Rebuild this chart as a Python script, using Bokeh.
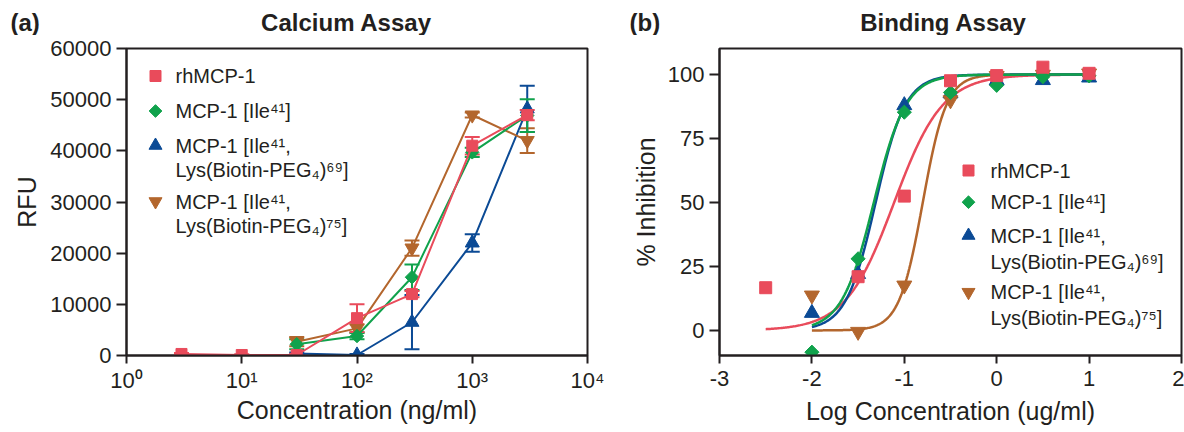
import numpy as np
from bokeh.plotting import figure
from bokeh.models import Label, Whisker, ColumnDataSource, FixedTicker, TeeHead, Range1d
from bokeh.layouts import row, column
from bokeh.embed import file_html
from bokeh.resources import INLINE

FONT = "Liberation Sans"
INK = "#231F20"
RED = "#E94B5B"
GREEN = "#10A24C"
BLUE = "#0B4A95"
BROWN = "#B3662D"

# ---------------- Panel (a): Calcium assay ----------------
a_conc_red = [3, 10, 30, 100, 300, 1000, 3000]
a_rfu_red = [300, 100, 100, 7300, 12000, 41000, 47000]
a_err_red = [200, 150, 200, 2700, 600, 1700, 1000]

a_conc = [30, 100, 300, 1000, 3000]
a_rfu_green = [2200, 3800, 15300, 39700, 46900]
a_err_green = [1000, 600, 2500, 900, 3200]
a_rfu_blue = [400, 100, 6500, 22000, 48200]
a_err_blue = [200, 200, 5300, 1700, 4500]
a_rfu_brown = [2700, 5300, 21000, 47000, 42000]
a_err_brown = [900, 800, 1500, 500, 2400]

a_yticks = [0, 10000, 20000, 30000, 40000, 50000, 60000]
a_xticks = [1, 10, 100, 1000, 10000]
a_xtick_labels = ["10\u2070", "10\u00b9", "10\u00b2", "10\u00b3", "10\u2074"]

# ---------------- Panel (b): Binding assay ----------------
b_logc_red = [-2.5, -1.5, -1.0, -0.5, 0.0, 0.5, 1.0]
b_inh_red = [16.7, 21.0, 52.5, 97.6, 99.6, 102.9, 100.5]
b_logc = [-2.0, -1.5, -1.0, -0.5, 0.0, 0.5, 1.0]
b_inh_green = [-8.5, 28.0, 85.3, 93.0, 95.8, 99.2, 99.5]
b_inh_blue = [6.8, 22.0, 88.0, 92.6, 97.7, 97.8, 98.8]
b_inh_brown = [13.7, -0.5, 17.6, 90.0, 99.5, 100.0, 100.5]

# fitted 4-parameter logistic curves: bottom, top, logEC50, hill, x-start, x-end
fit_red = [0.0, 100.0, -1.11, 1.65, -2.5, 1.0]
fit_green = [0.0, 100.0, -1.33, 2.5, -2.0, 1.0]
fit_blue = [0.0, 100.0, -1.31, 2.7, -2.0, 1.0]
fit_brown = [0.0, 100.0, -0.80, 3.4, -2.0, 1.0]

b_yticks = [0, 25, 50, 75, 100]
b_xticks = [-3, -2, -1, 0, 1, 2]
b_xtick_labels = ["-3", "-2", "-1", "0", "1", "2"]

legend_lines = [
    ["rhMCP-1"],
    ["MCP-1 [Ile\u2074\u00b9]"],
    ["MCP-1 [Ile\u2074\u00b9,", "Lys(Biotin-PEG\u2084)\u2076\u2079]"],
    ["MCP-1 [Ile\u2074\u00b9,", "Lys(Biotin-PEG\u2084)\u2077\u2075]"],
]
panel_titles = ["Calcium Assay", "Binding Assay"]
panel_letters = ["(a)", "(b)"]

# ---------------- layout constants (page pixels) ----------------
W_TOTAL = 1184
HEAD = 35
H = 432 - HEAD
WA = 606
WB = W_TOTAL - WA
A_L, A_R, A_T, A_B = 126, 587, 48, 355
B_L, B_R, B_T, B_B = 719, 1181, 48, 355


def style(p, xlabel, ylabel):
    p.xgrid.visible = False
    p.ygrid.visible = False
    p.outline_line_color = INK
    p.outline_line_width = 2
    p.outline_line_alpha = 1
    p.background_fill_color = "white"
    p.border_fill_color = "white"
    p.xaxis.axis_label = xlabel
    p.yaxis.axis_label = ylabel
    for ax in p.axis:
        ax.axis_line_color = INK
        ax.axis_line_width = 2
        ax.major_tick_line_color = INK
        ax.major_tick_line_width = 2
        ax.major_tick_in = 0
        ax.minor_tick_line_color = None
        ax.major_label_text_font = FONT
        ax.major_label_text_font_size = "22px"
        ax.major_label_text_color = INK
        ax.axis_label_text_font = FONT
        ax.axis_label_text_font_size = "25px"
        ax.axis_label_text_font_style = "normal"
        ax.axis_label_text_color = INK
    p.xaxis.major_tick_out = 8
    p.xaxis.major_label_standoff = 4
    p.xaxis.axis_label_standoff = 0
    p.yaxis.major_tick_out = 10
    p.yaxis.major_label_standoff = 5


def label(p, x, y, text, size="20px", bold=False, align="left"):
    p.add_layout(Label(x=x, y=y, text=text, text_font=FONT, text_font_size=size,
                       text_font_style="bold" if bold else "normal", text_color=INK,
                       text_baseline="middle", text_align=align))


# ---------------- header (panel letters and titles) ----------------
head = figure(width=W_TOTAL, height=HEAD, x_range=Range1d(0, W_TOTAL), y_range=Range1d(0, HEAD),
              output_backend="svg", toolbar_location=None, x_axis_location=None,
              y_axis_location=None, min_border_left=0, min_border_right=0,
              min_border_top=0, min_border_bottom=0, outline_line_color=None)
head.title.visible = False
head.xgrid.visible = False
head.ygrid.visible = False
for lx, tx, letter, title in zip([10, 629], [346, 943], panel_letters, panel_titles):
    label(head, lx, HEAD - 21.6, letter, size="24px", bold=True)
    label(head, tx, HEAD - 21.6, title, size="24px", bold=True, align="center")

# ---------------- figure (a) ----------------
pa = figure(width=WA, height=H, x_axis_type="log", x_range=Range1d(1, 10000),
            y_range=Range1d(0, 60000), output_backend="svg", toolbar_location=None,
            min_border_left=A_L, min_border_right=WA - A_R,
            min_border_top=A_T - HEAD, min_border_bottom=H - (A_B - HEAD))
style(pa, "Concentration (ng/ml)", "RFU")
pa.xaxis.ticker = FixedTicker(ticks=a_xticks)
pa.xaxis.major_label_overrides = {t: s for t, s in zip(a_xticks, a_xtick_labels)}
pa.yaxis.ticker = FixedTicker(ticks=a_yticks)
pa.yaxis.axis_label_standoff = 6


def a_x(px):
    return 10 ** ((px - A_L) / (A_R - A_L) * 4)


def a_y(py):
    return 60000 * (A_B - py) / (A_B - A_T)


def whisk(p, xs, ys, es, color):
    src = ColumnDataSource(dict(x=xs, lo=[y - e for y, e in zip(ys, es)],
                                hi=[y + e for y, e in zip(ys, es)]))
    w = Whisker(source=src, base="x", upper="hi", lower="lo", line_color=color, line_width=2,
                upper_head=TeeHead(size=15, line_color=color, line_width=2),
                lower_head=TeeHead(size=15, line_color=color, line_width=2))
    p.add_layout(w)


series_a = [
    (a_conc, a_rfu_blue, a_err_blue, BLUE, "triangle"),
    (a_conc, a_rfu_brown, a_err_brown, BROWN, "inverted_triangle"),
    (a_conc, a_rfu_green, a_err_green, GREEN, "diamond"),
    (a_conc_red, a_rfu_red, a_err_red, RED, "square"),
]
for xs, ys, es, col, mk in series_a:
    whisk(pa, xs, ys, es, col)
for xs, ys, es, col, mk in series_a:
    pa.line(xs, ys, line_color=col, line_width=2)
    if mk == "diamond":
        pa.scatter(xs, ys, marker="square", angle=np.pi / 4, size=9.5, fill_color=col, line_color=col)
    elif mk == "square":
        pa.scatter(xs, ys, marker="square", size=11, fill_color=col, line_color=col)
    else:
        pa.scatter(xs, ys, marker=mk, size=14, fill_color=col, line_color=col)

# ---------------- figure (b) ----------------
pb = figure(width=WB, height=H, x_range=Range1d(-3, 2), y_range=Range1d(-9.8, 110.2),
            output_backend="svg", toolbar_location=None,
            min_border_left=B_L - WA, min_border_right=W_TOTAL - B_R,
            min_border_top=B_T - HEAD, min_border_bottom=H - (B_B - HEAD))
style(pb, "Log Concentration (ug/ml)", "% Inhibition")
pb.xaxis.ticker = FixedTicker(ticks=b_xticks)
pb.xaxis.major_label_overrides = {t: s for t, s in zip(b_xticks, b_xtick_labels)}
pb.xaxis.major_label_standoff = 7
pb.xaxis.axis_label_standoff = 8
pb.yaxis.ticker = FixedTicker(ticks=b_yticks)
pb.yaxis.axis_label_standoff = 5


def b_x(px):
    return -3 + (px - B_L) / (B_R - B_L) * 5


def b_y(py):
    return -9.8 + (B_B - py) / (B_B - B_T) * 120


def four_pl(par):
    bottom, top, logec, hill, x0, x1 = par
    xs = np.linspace(x0, x1, 300)
    return xs, bottom + (top - bottom) / (1 + 10 ** ((logec - xs) * hill))


for par, col in [(fit_brown, BROWN), (fit_red, RED), (fit_blue, BLUE), (fit_green, GREEN)]:
    xs, ys = four_pl(par)
    pb.line(xs, ys, line_color=col, line_width=2.5)

pb.scatter(b_logc, b_inh_blue, marker="triangle", size=15, fill_color=BLUE, line_color=BLUE)
pb.scatter(b_logc, b_inh_brown, marker="inverted_triangle", size=15, fill_color=BROWN, line_color=BROWN)
pb.scatter(b_logc, b_inh_green, marker="square", angle=np.pi / 4, size=10, fill_color=GREEN, line_color=GREEN)
pb.scatter(b_logc_red, b_inh_red, marker="square", size=12, fill_color=RED, line_color=RED)

# ---------------- legends ----------------
marker_specs = [("square", 0, 11, RED), ("square", np.pi / 4, 9, GREEN),
                ("triangle", 0, 13, BLUE), ("inverted_triangle", 0, 13, BROWN)]


def legend(p, fx, fy, mx, tx, rows, gap):
    for (mk, ang, sz, col), lines, ry in zip(marker_specs, legend_lines, rows):
        p.scatter([fx(mx)], [fy(ry)], marker=mk, angle=ang, size=sz, fill_color=col, line_color=col)
        for i, ln in enumerate(lines):
            label(p, fx(tx), fy(ry + i * gap), ln, size="20px")


legend(pa, a_x, a_y, 155, 175, [75.5, 110.5, 145, 201], 24)
legend(pb, b_x, b_y, 968, 990, [170, 201.7, 235, 291.7], 26)

layout = column(head, row(pa, pb))
open("out.html", "w").write(file_html(layout, INLINE))
